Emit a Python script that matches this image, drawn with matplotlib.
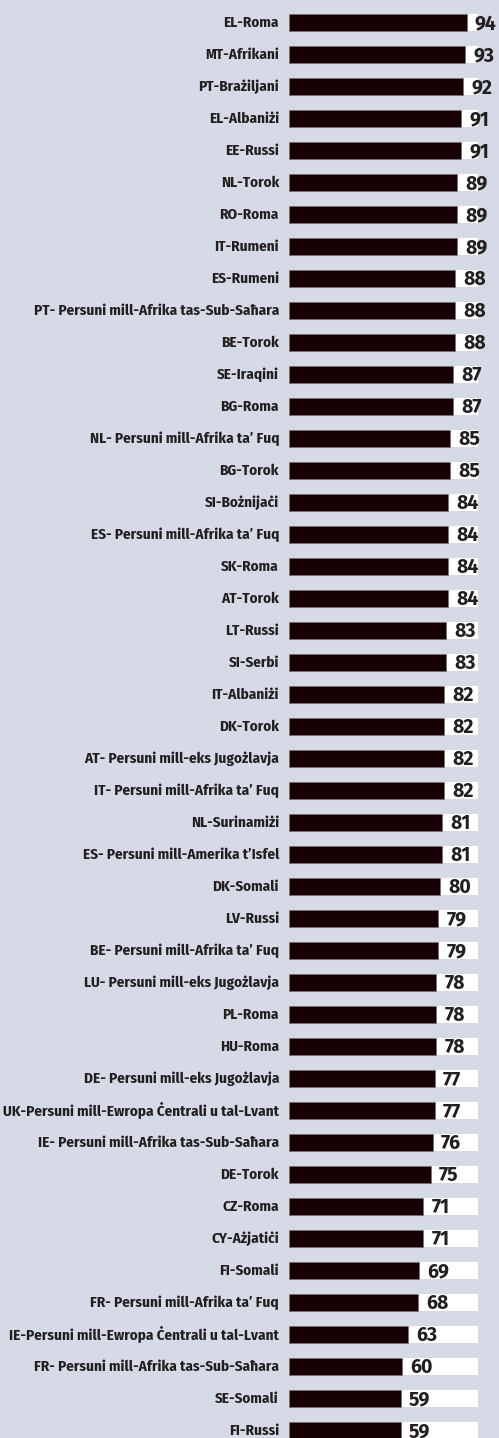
import matplotlib
matplotlib.use("Agg")
import matplotlib.pyplot as plt
import numpy as np

# groups and % values, top to bottom
labels = [
    "EL-Roma", "MT-Afrikani", "PT-Brażiljani", "EL-Albaniżi", "EE-Russi",
    "NL-Torok", "RO-Roma", "IT-Rumeni", "ES-Rumeni",
    "PT- Persuni mill-Afrika tas-Sub-Saħara", "BE-Torok", "SE-Iraqini",
    "BG-Roma", "NL- Persuni mill-Afrika ta’ Fuq", "BG-Torok", "SI-Bożnijaċi",
    "ES- Persuni mill-Afrika ta’ Fuq", "SK-Roma", "AT-Torok", "LT-Russi",
    "SI-Serbi", "IT-Albaniżi", "DK-Torok", "AT- Persuni mill-eks Jugożlavja",
    "IT- Persuni mill-Afrika ta’ Fuq", "NL-Surinamiżi",
    "ES- Persuni mill-Amerika t’Isfel", "DK-Somali", "LV-Russi",
    "BE- Persuni mill-Afrika ta’ Fuq", "LU- Persuni mill-eks Jugożlavja",
    "PL-Roma", "HU-Roma", "DE- Persuni mill-eks Jugożlavja",
    "UK-Persuni mill-Ewropa Ċentrali u tal-Lvant",
    "IE- Persuni mill-Afrika tas-Sub-Saħara", "DE-Torok", "CZ-Roma",
    "CY-Ażjatiċi", "FI-Somali", "FR- Persuni mill-Afrika ta’ Fuq",
    "IE-Persuni mill-Ewropa Ċentrali u tal-Lvant",
    "FR- Persuni mill-Afrika tas-Sub-Saħara", "SE-Somali", "FI-Russi",
]
values = [
    94, 93, 92, 91, 91, 89, 89, 89, 88, 88, 88, 87, 87, 85, 85, 84, 84, 84,
    84, 83, 83, 82, 82, 82, 82, 81, 81, 80, 79, 79, 78, 78, 78, 77, 77, 76,
    75, 71, 71, 69, 68, 63, 60, 59, 59,
]

bg = "#d6dae7"
bar_col = "#170003"
txt_col = "#231f20"
lab_fonts = ["Fira Sans Condensed", "DejaVu Sans"]
num_fonts = ["Fira Sans", "Open Sans", "DejaVu Sans"]

W, H = 499, 1438
fig = plt.figure(figsize=(W / 100, H / 100), dpi=100, facecolor=bg)

pitch = 32.0
top = 22.3 - pitch / 2
n = len(labels)
ax_h = n * pitch
ax = fig.add_axes([289 / W, (H - top - ax_h) / H, 189 / W, ax_h / H])
ax.set_facecolor(bg)

y = np.arange(n)
ax.barh(y, [100] * n, height=0.52, color="white", zorder=1)
ax.barh(y, values, height=0.52, color=bar_col, edgecolor="#7a6a74",
        linewidth=0.5, zorder=2)

# value labels
for yi, v in zip(y, values):
    ax.annotate(str(v), (v, yi), xytext=(6, -5), textcoords="offset points",
                ha="left", va="baseline", fontsize=14, fontweight="bold",
                family=num_fonts, color=txt_col, zorder=3,
                annotation_clip=False)

# group labels
lab_size = 11
texts = []
for yi, lab in zip(y, labels):
    t = ax.annotate(lab, (0, yi), xycoords=("axes fraction", "data"),
                    xytext=(-7.2, -0.34 * lab_size), textcoords="offset points",
                    ha="right", va="baseline", fontsize=lab_size,
                    fontweight="bold", fontstretch="condensed",
                    family=lab_fonts, color=txt_col, annotation_clip=False)
    texts.append(t)

# shrink labels if the longest one would not fit left of the bars
fig.canvas.draw()
r = fig.canvas.get_renderer()
widest = max(t.get_window_extent(r).width for t in texts)
if widest > 276:
    s = lab_size * 276 / widest
    for t in texts:
        t.set_fontsize(s)
        t.xyann = (-7.2, -0.34 * s)

ax.set_xlim(0, 100)
ax.set_ylim(n - 0.5, -0.5)
ax.set_xticks([])
ax.set_yticks([])
for s in ax.spines.values():
    s.set_visible(False)

fig.savefig("out.png", dpi=100, facecolor=bg)
